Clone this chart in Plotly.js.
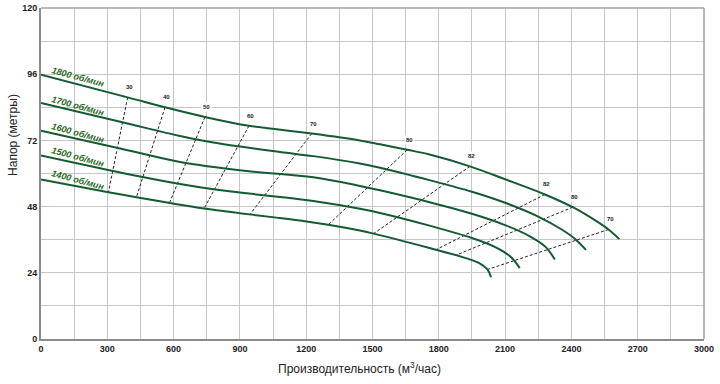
<!DOCTYPE html>
<html>
<head>
<meta charset="utf-8">
<script src="https://cdn.plot.ly/plotly-3.0.1.min.js"></script>
<style>html,body{margin:0;padding:0;background:#fff;}#chart{width:720px;height:384px;}</style>
</head>
<body>
<div id="chart"></div>
<script>
// ---- data ----
const speedLabels = ["1800 об/мин", "1700 об/мин", "1600 об/мин", "1500 об/мин", "1400 об/мин"];

const q1800 = [0, 392, 561, 742, 941, 1225, 1443, 1534, 1657, 1758, 1941, 2100, 2280, 2406, 2508, 2568, 2617];
const h1800 = [95.8, 87.6, 84.0, 80.5, 77.3, 74.5, 72.0, 70.6, 68.6, 66.9, 62.6, 57.9, 52.4, 47.8, 43.0, 39.7, 36.2];

const q1700 = [0, 368, 629, 780, 1081, 1232, 1443, 1534, 1758, 1950, 2100, 2250, 2358, 2418, 2466];
const h1700 = [85.6, 78.6, 73.6, 71.2, 67.8, 66.3, 63.6, 62.1, 57.6, 53.4, 49.4, 44.4, 39.6, 36.2, 32.3];

const q1600 = [0, 368, 629, 931, 1232, 1443, 1534, 1758, 1950, 2100, 2208, 2283, 2325];
const h1600 = [75.5, 68.9, 64.2, 60.9, 58.6, 55.5, 53.9, 49.6, 45.4, 41.3, 37.4, 33.4, 28.8];

const q1500 = [0, 368, 629, 780, 931, 1081, 1232, 1443, 1534, 1758, 1950, 2058, 2125, 2166];
const h1500 = [66.5, 60.2, 56.2, 54.3, 52.8, 51.5, 50.0, 47.2, 45.7, 41.1, 36.6, 33.2, 29.8, 25.7];

const q1400 = [0, 305, 432, 590, 738, 900, 1066, 1202, 1300, 1443, 1505, 1758, 1908, 1983, 2020, 2036];
const h1400 = [57.8, 53.2, 51.4, 49.2, 47.3, 45.6, 44.0, 42.6, 41.4, 39.3, 38.2, 33.0, 29.7, 27.5, 25.2, 22.4];

// efficiency (%) iso-lines: start on 1800 curve, end on 1400 curve
const effLabels = ["30", "40", "50", "60", "70", "80", "82", "82", "80", "70"];
const effQTop = [392, 561, 742, 941, 1225, 1657, 1941, 2280, 2406, 2568];
const effHTop = [87.6, 84.0, 80.5, 77.3, 74.5, 68.6, 62.6, 52.4, 47.8, 39.7];
const effQBot = [305, 432, 581, 738, 946, 1300, 1505, 1788, 1878, 2020];
const effHBot = [53.2, 51.4, 49.3, 47.3, 45.2, 41.4, 38.2, 32.4, 30.4, 25.2];

const xTicks = [0, 300, 600, 900, 1200, 1500, 1800, 2100, 2400, 2700, 3000];
const yTicks = [0, 24, 48, 72, 96, 120];

// ---- styling ----
const curveColor = "#145a32";
const labelColor = "#1f6a22";
const gridColor = "#c6c6c6";

const curves = [[q1800, h1800], [q1700, h1700], [q1600, h1600], [q1500, h1500], [q1400, h1400]];
const traces = [];

effLabels.forEach((lab, i) => {
  traces.push({
    x: [effQTop[i], effQBot[i]], y: [effHTop[i], effHBot[i]],
    mode: "lines", type: "scatter", hoverinfo: "skip", showlegend: false,
    line: {color: "#222", width: 1, dash: "3px,2px"}
  });
});
curves.forEach((c, i) => {
  traces.push({
    x: c[0], y: c[1], name: speedLabels[i],
    mode: "lines", type: "scatter", showlegend: false,
    line: {color: curveColor, width: 2, shape: "spline", smoothing: 1.0}
  });
});

const annotations = [];
// speed labels (positions in data space, set here)
const spdPos = [[166, 94.9], [166, 84.6], [166, 74.7], [166, 66.0], [166, 57.8]];
speedLabels.forEach((t, i) => {
  annotations.push({
    x: spdPos[i][0], y: spdPos[i][1], xref: "x", yref: "y", text: "<b><i>" + t + "</i></b>",
    showarrow: false, textangle: 15, font: {family: "Liberation Sans, Arial, sans-serif", size: 9, color: labelColor}
  });
});
effLabels.forEach((t, i) => {
  annotations.push({
    x: effQTop[i], y: effHTop[i], xref: "x", yref: "y", text: "<b>" + t + "</b>",
    showarrow: false, yshift: 10, xshift: 2, bgcolor: "#ffffff", borderpad: 1,
    font: {family: "Liberation Sans, Arial, sans-serif", size: 6, color: "#222"}
  });
});
annotations.push({
  xref: "paper", yref: "paper", x: -0.042, y: 0.617, xanchor: "center", yanchor: "middle",
  text: "Напор (метры)", textangle: -90, showarrow: false,
  font: {family: "Liberation Sans, Arial, sans-serif", size: 12, color: "#222"}
});
annotations.push({
  xref: "paper", yref: "paper", x: 0.481, y: -0.088, xanchor: "center", yanchor: "middle",
  text: "Производительность (м<sup>3</sup>/час)", showarrow: false,
  font: {family: "Liberation Sans, Arial, sans-serif", size: 12, color: "#222"}
});

const tickFont = {family: "Liberation Sans, Arial, sans-serif", size: 9, color: "#222", weight: "bold"};

const layout = {
  width: 720, height: 384,
  margin: {l: 41, r: 16, t: 8, b: 45},
  paper_bgcolor: "#fff", plot_bgcolor: "#fff",
  showlegend: false,
  xaxis: {
    range: [0, 3000], tickvals: xTicks, ticktext: xTicks.map(String),
    showgrid: true, gridcolor: gridColor, gridwidth: 1,
    minor: {dtick: 150, tick0: 0, showgrid: true, gridcolor: gridColor, gridwidth: 1},
    showline: true, linecolor: "#8c8c8c", linewidth: 2, zeroline: false,
    ticks: "", tickfont: tickFont, fixedrange: true
  },
  yaxis: {
    range: [0, 120], tickvals: yTicks, ticktext: yTicks.map(String),
    showgrid: true, gridcolor: gridColor, gridwidth: 1,
    minor: {dtick: 12, tick0: 0, showgrid: true, gridcolor: gridColor, gridwidth: 1},
    showline: true, linecolor: "#8c8c8c", linewidth: 2, zeroline: false,
    ticks: "", tickfont: tickFont, fixedrange: true
  },
  shapes: [
    {type: "line", xref: "paper", yref: "paper", x0: 0, x1: 1, y0: 1, y1: 1, line: {color: "#a0a0a0", width: 1.5}},
    {type: "line", xref: "paper", yref: "paper", x0: 1, x1: 1, y0: 0, y1: 1, line: {color: "#a0a0a0", width: 1.5}}
  ],
  annotations: annotations
};

Plotly.newPlot("chart", traces, layout, {displayModeBar: false, staticPlot: true});
</script>
</body>
</html>
